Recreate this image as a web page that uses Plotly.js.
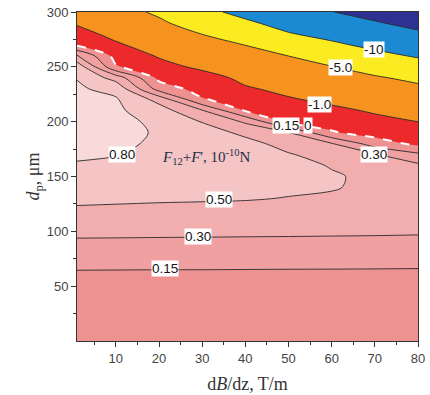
<!DOCTYPE html>
<html><head><meta charset="utf-8">
<script src="https://cdn.plot.ly/plotly-3.0.1.min.js"></script>
<style>html,body{margin:0;padding:0;background:#fff}#chart{width:430px;height:395px}</style>
</head><body><div id="chart"></div>
<script>
// dB/dz (T/m) grid columns and d_p (um) grid rows
const dBdz = [1, 10, 20, 30, 40, 50, 60, 70, 80];
const dp = [0, 20, 40, 60, 80, 100, 110, 120, 130, 140, 150, 160, 170, 180, 190, 200, 210, 220, 230, 240, 250, 260, 270, 280, 290, 300];

// F12+F' (1e-10 N), one column per dB/dz value (listed along dp)
const F_x1  = [0.001,0.014,0.057,0.128,0.225,0.345,0.41,0.48,0.555,0.63,0.70,0.78,0.83,0.865,0.89,0.90,0.895,0.875,0.835,0.79,0.70,0.33,-0.15,-0.75,-1.3,-2.0];
const F_x10 = [0.001,0.014,0.057,0.127,0.224,0.343,0.407,0.473,0.545,0.62,0.69,0.755,0.81,0.845,0.86,0.86,0.85,0.83,0.72,0.42,0.015,-0.385,-0.9,-1.8,-2.8,-3.8];
const F_x20 = [0.001,0.014,0.056,0.126,0.223,0.340,0.403,0.467,0.532,0.595,0.65,0.70,0.74,0.765,0.78,0.755,0.635,0.44,0.0825,-0.26,-0.70,-1.32,-2.36,-3.42,-4.47,-5.65];
const F_x30 = [0.001,0.014,0.056,0.126,0.222,0.338,0.400,0.462,0.525,0.585,0.635,0.675,0.70,0.71,0.66,0.49,0.32,0.015,-0.4,-0.64,-1.71,-2.8,-3.9,-5.05,-7.0,-9.0];
const F_x40 = [0.001,0.013,0.055,0.125,0.221,0.335,0.397,0.458,0.515,0.565,0.605,0.63,0.64,0.605,0.45,0.28,-0.05,-0.47,-0.91,-1.84,-2.92,-4.0,-5.05,-7.25,-9.35,-12.2];
const F_x50 = [0.001,0.013,0.055,0.124,0.220,0.333,0.393,0.450,0.495,0.535,0.565,0.58,0.525,0.42,0.305,-0.25,-0.58,-0.92,-1.8,-2.87,-3.93,-5.02,-7.4,-9.75,-12.8,-16.1];
const F_x60 = [0.001,0.013,0.054,0.124,0.218,0.330,0.388,0.44,0.48,0.515,0.525,0.49,0.41,0.31,0.015,-0.39,-0.83,-1.64,-2.72,-3.8,-4.9,-7.05,-9.3,-12.4,-16.0,-19.8];
const F_x70 = [0.001,0.013,0.054,0.123,0.217,0.327,0.38,0.42,0.45,0.468,0.465,0.42,0.32,0.075,-0.4,-0.8,-1.33,-2.44,-3.56,-4.67,-6.6,-8.86,-11.9,-15.6,-19.3,-23.0];
const F_x80 = [0.001,0.013,0.053,0.122,0.215,0.322,0.36,0.39,0.41,0.418,0.40,0.34,0.18,-0.25,-0.625,-1.02,-2.12,-3.24,-4.33,-5.9,-8.2,-10.8,-14.7,-18.6,-22.5,-26.4];

// contour levels (non-uniform)
const levels = [-20, -10, -5, -1, 0, 0.15, 0.30, 0.50, 0.80];
const xTicks = [10, 20, 30, 40, 50, 60, 70, 80];
const yTicks = [50, 100, 150, 200, 250, 300];

const bandColors = ['#2E3192','#1C8AD3','#FAEC20','#F6931F','#ED2A2B','#EE9191','#F0A0A0','#F2AEAF','#F5C4C5','#F8DADB'];

const cols = [F_x1, F_x10, F_x20, F_x30, F_x40, F_x50, F_x60, F_x70, F_x80];
// map real value to level-index space so that non-uniform levels become uniform contours
function toIdx(z) {
  const L = levels, n = L.length;
  if (z <= L[0]) return (z - L[0]) / (L[1] - L[0]);
  if (z >= L[n-1]) return (n - 1) + (z - L[n-1]) / (L[n-1] - L[n-2]);
  for (let k = 0; k < n - 1; k++) {
    if (z >= L[k] && z < L[k+1]) return k + (z - L[k]) / (L[k+1] - L[k]);
  }
  return n - 1;
}
const zIdx = dp.map((_, i) => cols.map(c => toIdx(c[i])));
const nL = levels.length;
const colorscale = bandColors.map((c, k) => [k / (bandColors.length - 1), c]);
const i0 = levels.indexOf(0);
const smooth = 0.9;

const base = {type: 'contour', x: dBdz, y: dp, z: zIdx, autocontour: false, showscale: false, hoverinfo: 'skip'};
const traces = [
  Object.assign({}, base, {colorscale: colorscale, contours: {start: 0, end: nL - 1, size: 1, coloring: 'fill', showlines: false}, line: {width: 0, smoothing: smooth}}),
  Object.assign({}, base, {contours: {start: 0, end: i0 - 1, size: 1, coloring: 'none'}, line: {color: '#2a2a2a', width: 0.9, smoothing: smooth}}),
  Object.assign({}, base, {contours: {start: i0 + 1, end: nL - 1, size: 1, coloring: 'none'}, line: {color: '#2a2a2a', width: 0.9, smoothing: smooth}}),
  Object.assign({}, base, {contours: {start: i0, end: i0, size: 1, coloring: 'none'}, line: {color: '#ffffff', width: 2, dash: 'dash', smoothing: smooth}})
];

const lblFont = {family: 'Liberation Sans, Arial, sans-serif', size: 13.5, color: '#151515'};
function lbl(text, x, y) {
  return {text: text, x: x, y: y, xref: 'x', yref: 'y', showarrow: false, bgcolor: '#ffffff', borderpad: 0, font: lblFont};
}
const annotations = [
  lbl('-10', 69.7, 265.5),
  lbl('-5.0', 62.1, 249),
  lbl('-1.0', 57.1, 216),
  lbl('0.15', 49.4, 196.4),
  lbl('0', 54.4, 196.4),
  lbl('0.30', 69.8, 170),
  lbl('0.80', 11.4, 170),
  lbl('0.50', 34, 129),
  lbl('0.30', 29, 95.5),
  lbl('0.15', 21.3, 66),
  {text: "<i>F</i><sub>12</sub>+<i>F</i>', 10<sup>-10</sup>N", x: 31.1, y: 168, xref: 'x', yref: 'y', showarrow: false,
   font: {family: 'Liberation Serif, Times New Roman, serif', size: 15, color: '#22304a'}}
];

const axisCommon = {showline: true, linecolor: '#333', linewidth: 1, mirror: true, ticks: 'outside', ticklen: 5, tickcolor: '#333',
  showgrid: false, zeroline: false, tickfont: {family: 'Liberation Sans, Arial, sans-serif', size: 13, color: '#444'}};

const layout = {
  width: 430, height: 395,
  margin: {l: 77, r: 12, t: 12, b: 54},
  paper_bgcolor: '#fff', plot_bgcolor: '#fff',
  showlegend: false,
  xaxis: Object.assign({}, axisCommon, {range: [1, 80], tickvals: xTicks,
    minor: {dtick: 5, tick0: 0, ticks: 'outside', ticklen: 3, tickcolor: '#333'},
    title: {text: 'd<i>B</i>/dz, T/m', font: {family: 'Liberation Serif, Times New Roman, serif', size: 18, color: '#333'}, standoff: 12}}),
  yaxis: Object.assign({}, axisCommon, {range: [0, 300], tickvals: yTicks,
    minor: {tickvals: [25, 75, 125, 175, 225, 275], ticks: 'outside', ticklen: 3, tickcolor: '#333'},
    title: {text: '<i>d</i><sub>p</sub>, μm', font: {family: 'Liberation Serif, Times New Roman, serif', size: 18, color: '#333'}, standoff: 2}}),
  annotations: annotations
};

Plotly.newPlot('chart', traces, layout, {staticPlot: true, displayModeBar: false});
</script></body></html>
